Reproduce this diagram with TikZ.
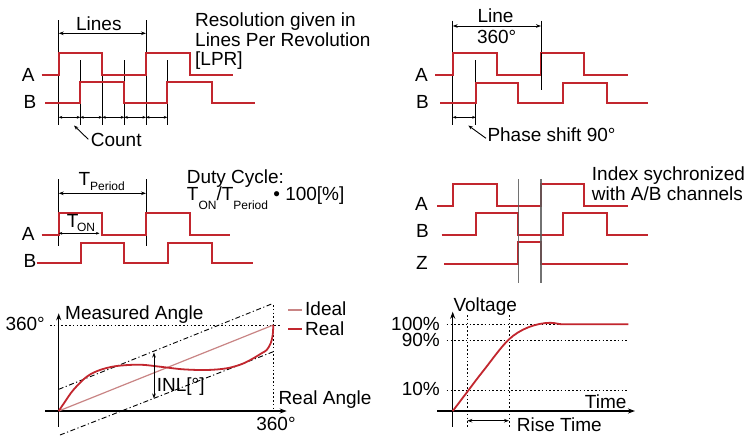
\documentclass[tikz,border=0pt]{standalone}
\usepackage{fontspec}
\setmainfont{Liberation Sans}
\usetikzlibrary{arrows.meta}
\definecolor{sigred}{HTML}{C2262E}
\definecolor{idealred}{HTML}{C98585}
\definecolor{guidegray}{HTML}{5A5A5A}
\tikzset{
  sig/.style={draw=sigred, line width=1.9pt, line join=miter},
  guide/.style={draw=black, line width=0.9pt},
  gguide/.style={draw=guidegray, line width=1.3pt},
  dimarr/.style={draw=black, line width=0.9pt, {Stealth[length=5pt,width=3.6pt]}-{Stealth[length=5pt,width=3.6pt]}},
  smallarr/.style={draw=black, line width=0.8pt, {Stealth[length=3.6pt,width=2.8pt]}-{Stealth[length=3.6pt,width=2.8pt]}},
  leader/.style={draw=black, line width=0.9pt, {Stealth[length=4.5pt,width=3.4pt]}-},
  axis/.style={draw=black, line width=1.3pt, -{Stealth[length=7pt,width=5pt]}},
  dotl/.style={draw=black, line width=0.9pt, dash pattern=on 1.6pt off 2.2pt},
  dashdot/.style={draw=black, line width=0.9pt, dash pattern=on 5pt off 2.5pt on 1.2pt off 2.5pt},
  lbl/.style={inner sep=0, anchor=base west, font=\fontsize{19}{20}\selectfont},
  clbl/.style={inner sep=0, anchor=base, font=\fontsize{19}{20}\selectfont},
  rlbl/.style={inner sep=0, anchor=base east, font=\fontsize{19}{20}\selectfont},
}
\newcommand{\smallsub}[2]{\raisebox{-#1pt}{\fontsize{12}{12}\selectfont #2}}
\begin{document}
\begin{tikzpicture}[x=1pt,y=-1pt]
\useasboundingbox[fill=white] (0,0) rectangle (747,437);

% ================= Panel 1: Lines / Count =================
\draw[guide] (58.7,20) -- (58.7,125);
\draw[guide] (146,20) -- (146,125);
\foreach \xx in {80.3,102.3,124.3,167.3} \draw[guide] (\xx,60) -- (\xx,125);
\draw[sig] (41.7,75) -- (58.7,75) -- (58.7,53.3) -- (102.3,53.3) -- (102.3,75) -- (146,75) -- (146,53.3) -- (190,53.3) -- (190,75) -- (233,75);
\draw[sig] (45,103.3) -- (80.3,103.3) -- (80.3,82.3) -- (124.3,82.3) -- (124.3,103.3) -- (167.3,103.3) -- (167.3,82.3) -- (211.7,82.3) -- (211.7,103.3) -- (255,103.3);
\coordinate (l1a) at (58.7,33.3); \coordinate (l1b) at (146,33.3);
\draw[dimarr] (l1a) -- (l1b);
\node[clbl] (lines) at (98.8,30) {Lines};
\node[lbl] (res1) at (195,26.7) {Resolution given in};
\node[lbl] (res2) at (195,46.5) {Lines Per Revolution};
\node[lbl] (res3) at (195,65.5) {[LPR]};
\node[lbl] (pa1) at (21.7,81.7) {A};
\node[lbl] (pb1) at (23.3,108.3) {B};
\foreach \xa/\xb in {58.7/80.3,80.3/102.3,102.3/124.3,124.3/146,146/167.3}
  \draw[smallarr] (\xa,117.3) -- (\xb,117.3);
\node[lbl] (count) at (90.7,146.7) {Count};
\coordinate (cnttip) at (74,125.5); \coordinate (cntend) at (88.3,139.3);
\draw[leader] (cnttip) -- (cntend);

% ================= Panel 2: Line 360 / Phase =================
\draw[guide] (452.7,20.7) -- (452.7,125);
\draw[guide] (541,20.7) -- (541,90);
\draw[guide] (475.7,60) -- (475.7,125);
\draw[sig] (435,75) -- (452.7,75) -- (452.7,53.3) -- (496.7,53.3) -- (496.7,75) -- (541,75) -- (541,53.3) -- (584.3,53.3) -- (584.3,75) -- (628.3,75);
\draw[sig] (440,103.3) -- (475.7,103.3) -- (475.7,82.7) -- (518.3,82.7) -- (518.3,103.3) -- (562.7,103.3) -- (562.7,82.7) -- (606.7,82.7) -- (606.7,103.3) -- (647.7,103.3);
\draw[guide] (541,53.3) -- (541,90);
\coordinate (l2a) at (452.7,26); \coordinate (l2b) at (541,26);
\draw[dimarr] (l2a) -- (l2b);
\node[clbl] (line2) at (495.5,22.7) {Line};
\node[clbl] (deg2) at (496.7,43.3) {360°};
\node[lbl] (pa2) at (415,81.7) {A};
\node[lbl] (pb2) at (416,108.3) {B};
\coordinate (psa) at (452.7,117.3); \coordinate (psb) at (475.7,117.3);
\draw[smallarr] (psa) -- (psb);
\node[lbl] (phase) at (487.3,141) {Phase shift 90°};
\coordinate (phtip) at (468.3,125.5); \coordinate (phend) at (486,138.3);
\draw[leader] (phtip) -- (phend);

% ================= Panel 3: Duty cycle =================
\draw[guide] (58.7,179.3) -- (58.7,246);
\draw[guide] (146,179.3) -- (146,246);
\draw[sig] (41.7,235) -- (58.7,235) -- (58.7,213.3) -- (102.3,213.3) -- (102.3,235) -- (146,235) -- (146,213.3) -- (190,213.3) -- (190,235) -- (230,235);
\draw[sig] (36.7,263.3) -- (81,263.3) -- (81,242.7) -- (124.3,242.7) -- (124.3,263.3) -- (167.7,263.3) -- (167.7,242.7) -- (211.7,242.7) -- (211.7,263.3) -- (253.3,263.3);
\coordinate (tpa) at (58.7,193.3); \coordinate (tpb) at (146,193.3);
\draw[dimarr] (tpa) -- (tpb);
\node[lbl] (tper) at (78.3,185) {T\smallsub{5}{Period}};
\coordinate (toa) at (58.7,233.3); \coordinate (tob) at (99.5,233.3);
\draw[smallarr] (toa) -- (tob);
\node[lbl] (ton) at (66.7,227.3) {T\kern-1.5pt\smallsub{4.5}{ON}};
\node[lbl] (duty1) at (186.7,183.3) {Duty Cycle:};
\node[lbl] (duty2) at (186.7,200) {T\smallsub{9}{ON}/T\smallsub{9}{Period} • 100[\%]};
\node[lbl] (pa3) at (21.7,240) {A};
\node[lbl] (pb3) at (23.3,267.3) {B};

% ================= Panel 4: Index =================
\draw[sig] (437.3,205.7) -- (453.3,205.7) -- (453.3,184) -- (496.7,184) -- (496.7,205.7) -- (541,205.7) -- (541,184) -- (584.3,184) -- (584.3,205.7) -- (628.3,205.7);
\draw[sig] (441.7,235) -- (475.7,235) -- (475.7,213.3) -- (518.3,213.3) -- (518.3,235) -- (562.7,235) -- (562.7,213.3) -- (606.7,213.3) -- (606.7,235) -- (647.7,235);
\draw[sig] (444,264) -- (518.3,264) -- (518.3,242.3) -- (541,242.3) -- (541,264) -- (628.3,264);
\draw[gguide, opacity=0.85] (518.3,179.3) -- (518.3,283);
\draw[gguide, opacity=0.85] (541,179.3) -- (541,283);
\node[lbl] (pa4) at (415,210) {A};
\node[lbl] (pb4) at (416,237.3) {B};
\node[lbl] (pz4) at (416,269.3) {Z};
\node[lbl] (idx1) at (591.7,180.7) {Index sychronized};
\node[lbl] (idx2) at (591.7,200) {with A/B channels};

% ================= Panel 5: INL =================
\draw[dotl] (50,325) -- (281.7,325);
\draw[dotl] (273.3,305) -- (273.3,411);
\draw[dashdot] (58.7,389.3) -- (273.3,303.3);
\draw[dashdot] (60,435) -- (273.3,351.7);
\draw[axis] (58.7,426.7) -- (58.7,313.3);
\draw[axis] (45,411) -- (286.7,411);
\draw[draw=idealred, line width=1.2pt] (58.7,411) -- (273.3,325);
\draw[sig, line width=1.8pt] plot[smooth, tension=0.55] coordinates {(58.7,411) (65,401.7) (73.3,390) (86.7,376.7) (100,370) (116.7,366) (140,364.7) (160,366.7) (183,369.3) (206.7,370) (226.7,368.3) (242,364) (253.3,358.3) (262,353) (266.7,350) (270.7,343.3) (272.7,335) (273.3,325)};
\coordinate (inla) at (154,352.5); \coordinate (inlb) at (154,398.5);
\draw[dimarr] (inla) -- (inlb);
\node[lbl] (inl) at (156.7,391.7) {INL[°]};
\node[rlbl] (y360) at (45,330.7) {360°};
\node[lbl] (mang) at (65,319.3) {Measured Angle};
\node[lbl] (rang) at (278.3,404) {Real Angle};
\node[clbl] (x360) at (276,430.7) {360°};
\draw[draw=idealred, line width=1.2pt] (288.3,310) -- (301.7,310);
\draw[sig, line width=1.8pt] (288.3,329.3) -- (301.7,329.3);
\node[lbl] (ideal) at (305,315.7) {Ideal};
\node[lbl] (real) at (305,335.3) {Real};

% ================= Panel 6: Rise time =================
\draw[dotl] (446.7,324.3) -- (628.3,324.3);
\draw[dotl] (446.7,340) -- (628.3,340);
\draw[dotl] (446.7,390) -- (628.3,390);
\draw[dotl] (467.3,315) -- (467.3,426.7);
\draw[dotl] (509,315) -- (509,426.7);
\draw[axis] (452.7,426.7) -- (452.7,311.7);
\draw[axis] (437.3,411) -- (635,411);
\draw[sig, line width=1.8pt] (452.7,411) .. controls (462,399) and (470,388) .. (480,375)
  .. controls (492,360) and (500,348) .. (509,339.3)
  .. controls (520,329) and (536,323) .. (550,322.8)
  .. controls (556,322.8) and (558,324.3) .. (563,324.3) -- (628.3,324.3);
\coordinate (rta) at (467.3,420.7); \coordinate (rtb) at (509,420.7);
\draw[dimarr] (rta) -- (rtb);
\node[lbl] (volt) at (453.3,311.7) {Voltage};
\node[rlbl] (p100) at (440,330) {100\%};
\node[rlbl] (p90) at (440,346) {90\%};
\node[rlbl] (p10) at (440,395) {10\%};
\node[rlbl] (time) at (626.7,408.3) {Time};
\node[lbl] (rise) at (516.7,431.5) {Rise Time};
\end{tikzpicture}
\end{document}
